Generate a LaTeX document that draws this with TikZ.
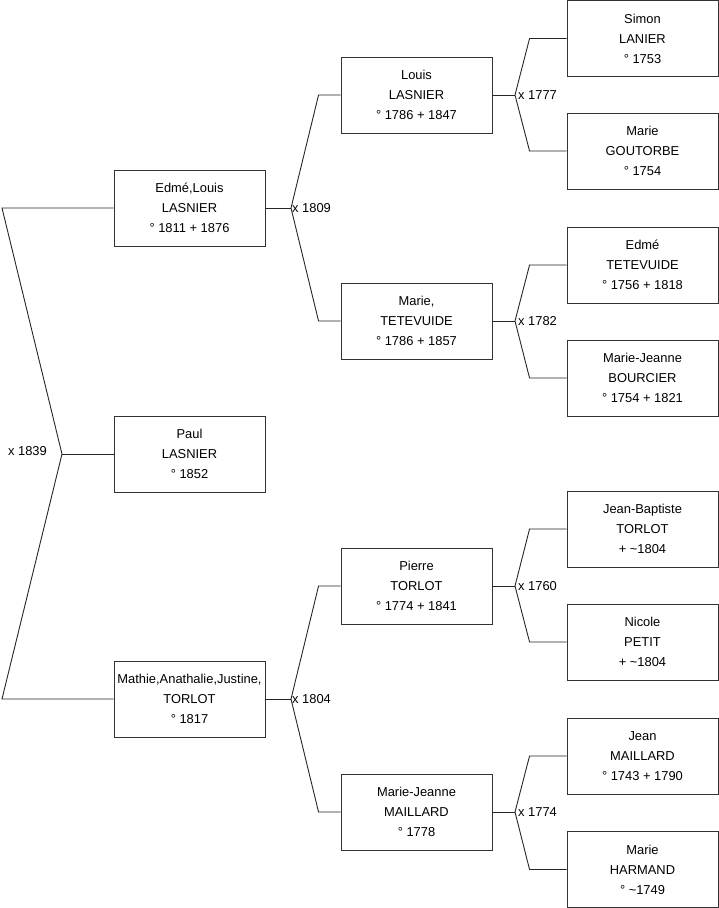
\documentclass[tikz,border=0pt]{standalone}
\usepackage{fontspec}
\setmainfont{Liberation Sans}
\begin{document}
\begin{tikzpicture}[x=1pt,y=-1pt,
  person/.style={draw=black!80, line width=0.9pt, minimum width=151pt, minimum height=76pt, inner sep=0pt, align=center,
    font=\fontsize{12.9}{20}\selectfont},
  link/.style={draw=black!85, line width=0.9pt},
  mlabel/.style={font=\fontsize{12.9}{15}\selectfont, inner sep=1pt}]
\useasboundingbox (0,0) rectangle (719,908);
% generation 1
\node[person] (edme) at (189.5,208) {Edmé,Louis\\LASNIER\\° 1811 + 1876};
\node[person] (paul) at (189.5,454) {Paul\\LASNIER\\° 1852};
\node[person] (mathie) at (189.5,699) {Mathie,Anathalie,Justine,\\TORLOT\\° 1817};
% generation 2
\node[person] (louis) at (416.5,95) {Louis\\LASNIER\\° 1786 + 1847};
\node[person] (marieT) at (416.5,321) {Marie,\\TETEVUIDE\\° 1786 + 1857};
\node[person] (pierre) at (416.5,586) {Pierre\\TORLOT\\° 1774 + 1841};
\node[person] (mjM) at (416.5,812) {Marie-Jeanne\\MAILLARD\\° 1778};
% generation 3
\node[person] (simon) at (642.5,38.5) {Simon\\LANIER\\° 1753};
\node[person] (goutorbe) at (642.5,151) {Marie\\GOUTORBE\\° 1754};
\node[person] (edmeT) at (642.5,265) {Edmé\\TETEVUIDE\\° 1756 + 1818};
\node[person] (bourcier) at (642.5,378) {Marie-Jeanne\\BOURCIER\\° 1754 + 1821};
\node[person] (jb) at (642.5,529) {Jean-Baptiste\\TORLOT\\+ \textasciitilde1804};
\node[person] (nicole) at (642.5,642) {Nicole\\PETIT\\+ \textasciitilde1804};
\node[person] (jean) at (642.5,756) {Jean\\MAILLARD\\° 1743 + 1790};
\node[person] (harmand) at (642.5,869.5) {Marie\\HARMAND\\° \textasciitilde1749};
% generation 1 connectors
\coordinate (top1) at (2,208);
\coordinate (bot1) at (2,699);
\coordinate (f1) at (62,454);
\draw[link] (edme.west) -- (top1) -- (f1) -- (bot1) -- (mathie.west);
\draw[link] (f1) -- (paul.west);
\node[mlabel, anchor=east] (m1) at (48,451) {x 1839};
% generation 2 connectors
\coordinate (f2a) at (291,208);
\draw[link] (edme.east) -- (f2a);
\draw[link] (louis.west) -- ([xshift=-22pt]louis.west) -- (f2a) -- ([xshift=-22pt]marieT.west) -- (marieT.west);
\node[mlabel, anchor=west] (m2a) at (f2a) {x 1809};
\coordinate (f2b) at (291,699);
\draw[link] (mathie.east) -- (f2b);
\draw[link] (pierre.west) -- ([xshift=-22pt]pierre.west) -- (f2b) -- ([xshift=-22pt]mjM.west) -- (mjM.west);
\node[mlabel, anchor=west] (m2b) at (f2b) {x 1804};
% generation 3 connectors
\coordinate (f3a) at (515,95);
\draw[link] (louis.east) -- (f3a);
\draw[link] (simon.west) -- ([xshift=-37pt]simon.west) -- (f3a) -- ([xshift=-37pt]goutorbe.west) -- (goutorbe.west);
\node[mlabel, anchor=west] (m3a) at ([xshift=2pt]f3a) {x 1777};
\coordinate (f3b) at (515,321);
\draw[link] (marieT.east) -- (f3b);
\draw[link] (edmeT.west) -- ([xshift=-37pt]edmeT.west) -- (f3b) -- ([xshift=-37pt]bourcier.west) -- (bourcier.west);
\node[mlabel, anchor=west] (m3b) at ([xshift=2pt]f3b) {x 1782};
\coordinate (f3c) at (515,586);
\draw[link] (pierre.east) -- (f3c);
\draw[link] (jb.west) -- ([xshift=-37pt]jb.west) -- (f3c) -- ([xshift=-37pt]nicole.west) -- (nicole.west);
\node[mlabel, anchor=west] (m3c) at ([xshift=2pt]f3c) {x 1760};
\coordinate (f3d) at (515,812);
\draw[link] (mjM.east) -- (f3d);
\draw[link] (jean.west) -- ([xshift=-37pt]jean.west) -- (f3d) -- ([xshift=-37pt]harmand.west) -- (harmand.west);
\node[mlabel, anchor=west] (m3d) at ([xshift=2pt]f3d) {x 1774};
\end{tikzpicture}
\end{document}
